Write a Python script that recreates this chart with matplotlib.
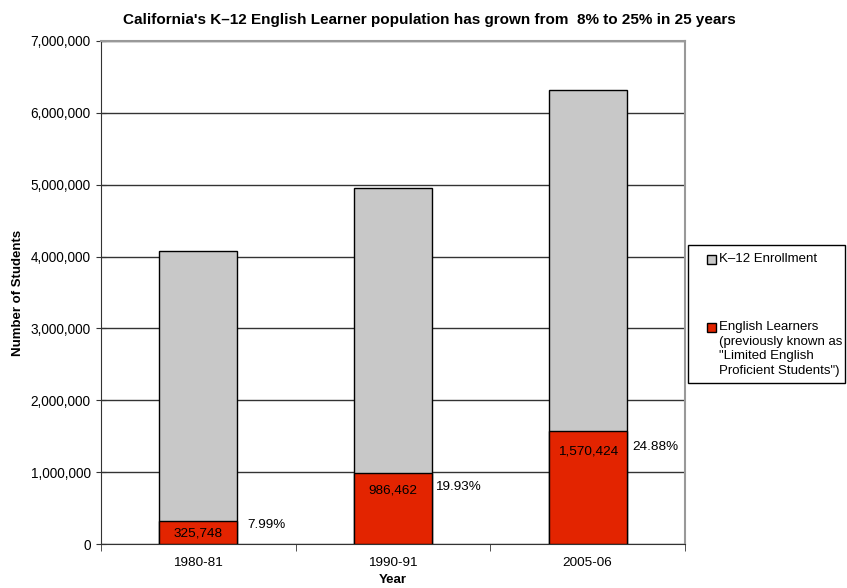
import matplotlib.pyplot as plt
from matplotlib.patches import Rectangle
from matplotlib.ticker import FuncFormatter

plt.rcParams['font.family'] = ['Liberation Sans', 'DejaVu Sans']

years = ['1980-81', '1990-91', '2005-06']
enrollment = [4076946, 4949633, 6311994]
learners = [325748, 986462, 1570424]
pct = ['7.99%', '19.93%', '24.88%']

gray = '#c8c8c8'
red = '#e32400'

fig = plt.figure(figsize=(8.47, 5.88), dpi=100)
ax = fig.add_axes([101/847, 44/588, 584/847, 503/588])

x = range(len(years))
ax.bar(x, enrollment, width=0.4, color=gray, edgecolor='black', linewidth=1, zorder=3)
ax.bar(x, learners, width=0.4, color=red, edgecolor='black', linewidth=1, zorder=4)

# labels inside the red bars and percentages to the right (hand placed like the original)
val_off = [-9, -12.5, -14.5]
pct_off = [(7, -3), (2, -10), (4, -11.5)]
for i in x:
    ax.annotate(f'{learners[i]:,}', (i, learners[i]), xytext=(0, val_off[i]), textcoords='offset points',
                ha='center', va='center', fontsize=9.7, zorder=5)
    ax.annotate(pct[i], (i + 0.2, learners[i]), xytext=pct_off[i], textcoords='offset points',
                ha='left', va='center', fontsize=9.7, zorder=5)

ax.set_xlim(-0.5, 2.5)
ax.set_ylim(0, 7000000)
ax.set_yticks(range(0, 7000001, 1000000))
ax.yaxis.set_major_formatter(FuncFormatter(lambda v, p: f'{int(v):,}'))
ax.set_xticks(list(x))
ax.set_xticklabels(years)
ax.set_xticks([-0.5, 0.5, 1.5, 2.5], minor=True)
ax.tick_params(axis='x', which='major', length=0, pad=9, labelsize=9.7)
ax.tick_params(axis='x', which='minor', length=5, direction='out', color='#333333')
ax.tick_params(axis='y', length=7, direction='inout', labelsize=9.8, color='#333333', pad=4)
ax.yaxis.grid(True, color='#333333', linewidth=1, zorder=0)
ax.set_axisbelow(True)
for s in ['top', 'right']:
    ax.spines[s].set_color('#999999')
    ax.spines[s].set_linewidth(1.5)
ax.spines['left'].set_color('#333333')
ax.spines['bottom'].set_color('#333333')

ax.set_ylabel('Number of Students', fontsize=9.5, fontweight='bold', labelpad=5)
ax.set_xlabel('Year', fontsize=9.5, fontweight='bold', labelpad=4)
fig.text(429.5/847, 1 - 20/588, "California's K\u201312 English Learner population has grown from  8% to 25% in 25 years",
         ha='center', va='center', fontsize=11, fontweight='bold')

# legend drawn by hand
W, H = 847, 588
fig.patches.append(Rectangle((688/W, 1 - 383/H), 157/W, 138/H, transform=fig.transFigure,
                             facecolor='white', edgecolor='black', linewidth=1))
fig.patches.append(Rectangle((707/W, 1 - 264/H), 9/W, 9/H, transform=fig.transFigure,
                             facecolor=gray, edgecolor='black', linewidth=1))
fig.patches.append(Rectangle((707/W, 1 - 332/H), 9/W, 9/H, transform=fig.transFigure,
                             facecolor=red, edgecolor='black', linewidth=1))
fig.text(719/W, 1 - 259/H, 'K\u201312 Enrollment', ha='left', va='center', fontsize=9.5)
fig.text(719/W, 1 - 321/H, 'English Learners\n(previously known as\n"Limited English\nProficient Students")',
         ha='left', va='top', fontsize=9.5, linespacing=1.3)

fig.savefig('out.png', dpi=100)
